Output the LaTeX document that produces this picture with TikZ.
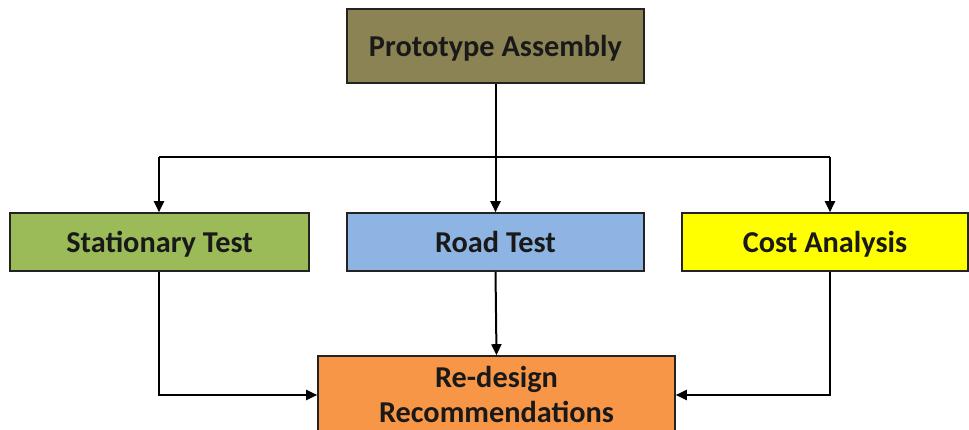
\documentclass[tikz,border=0pt]{standalone}
\usepackage{fontspec}
\setmainfont{Carlito}
\usetikzlibrary{arrows.meta}
\definecolor{cOlive}{RGB}{140,131,84}
\definecolor{cGreen}{RGB}{155,187,89}
\definecolor{cBlue}{RGB}{141,180,226}
\definecolor{cYellow}{RGB}{255,255,0}
\definecolor{cOrange}{RGB}{247,150,70}
\definecolor{cEdge}{RGB}{35,35,35}
\tikzset{
  box/.style={draw=cEdge, line width=1.6pt, inner sep=0pt, text=black!90,
    font=\fontsize{30.3}{35.5}\selectfont\bfseries, align=center,
    text height=20pt, text depth=0pt},
  conn/.style={draw=black, line width=2pt},
  arr/.style={conn, -{Triangle[length=11pt,width=10pt]}}
}
\begin{document}
\begin{tikzpicture}[x=1pt,y=-1pt]
\useasboundingbox (0,0) rectangle (969,429);
\clip (0,0) rectangle (969,429);
\node[box, fill=cOlive, minimum width=297pt, minimum height=74pt] (pa) at (495.5,46) {Prototype Assembly};
\node[box, fill=cGreen, minimum width=299pt, minimum height=58pt] (st) at (159.5,242) {Stationary Test};
\node[box, fill=cBlue, minimum width=297pt, minimum height=58pt] (rt) at (495.5,242) {Road Test};
\node[box, fill=cYellow, minimum width=286pt, minimum height=58pt] (ca) at (825,242) {Cost Analysis};
\node[box, fill=cOrange, minimum width=357pt, minimum height=78pt, text height=55.5pt] (rd) at (496.5,395) {Re-design\\Recommendations};
\coordinate (jl) at (159,157);
\coordinate (jr) at (830,157);
\draw[arr] (pa.south) -- (rt.north);
\draw[conn] (jl) -- (jr);
\draw[arr] (jl) -- (jl |- st.north);
\draw[arr] (jr) -- (jr |- ca.north);
\draw[arr] (rt.south) -- (rd.north);
\draw[arr] (jl |- st.south) |- (rd.west);
\draw[arr] (jr |- ca.south) |- (rd.east);
\end{tikzpicture}
\end{document}
